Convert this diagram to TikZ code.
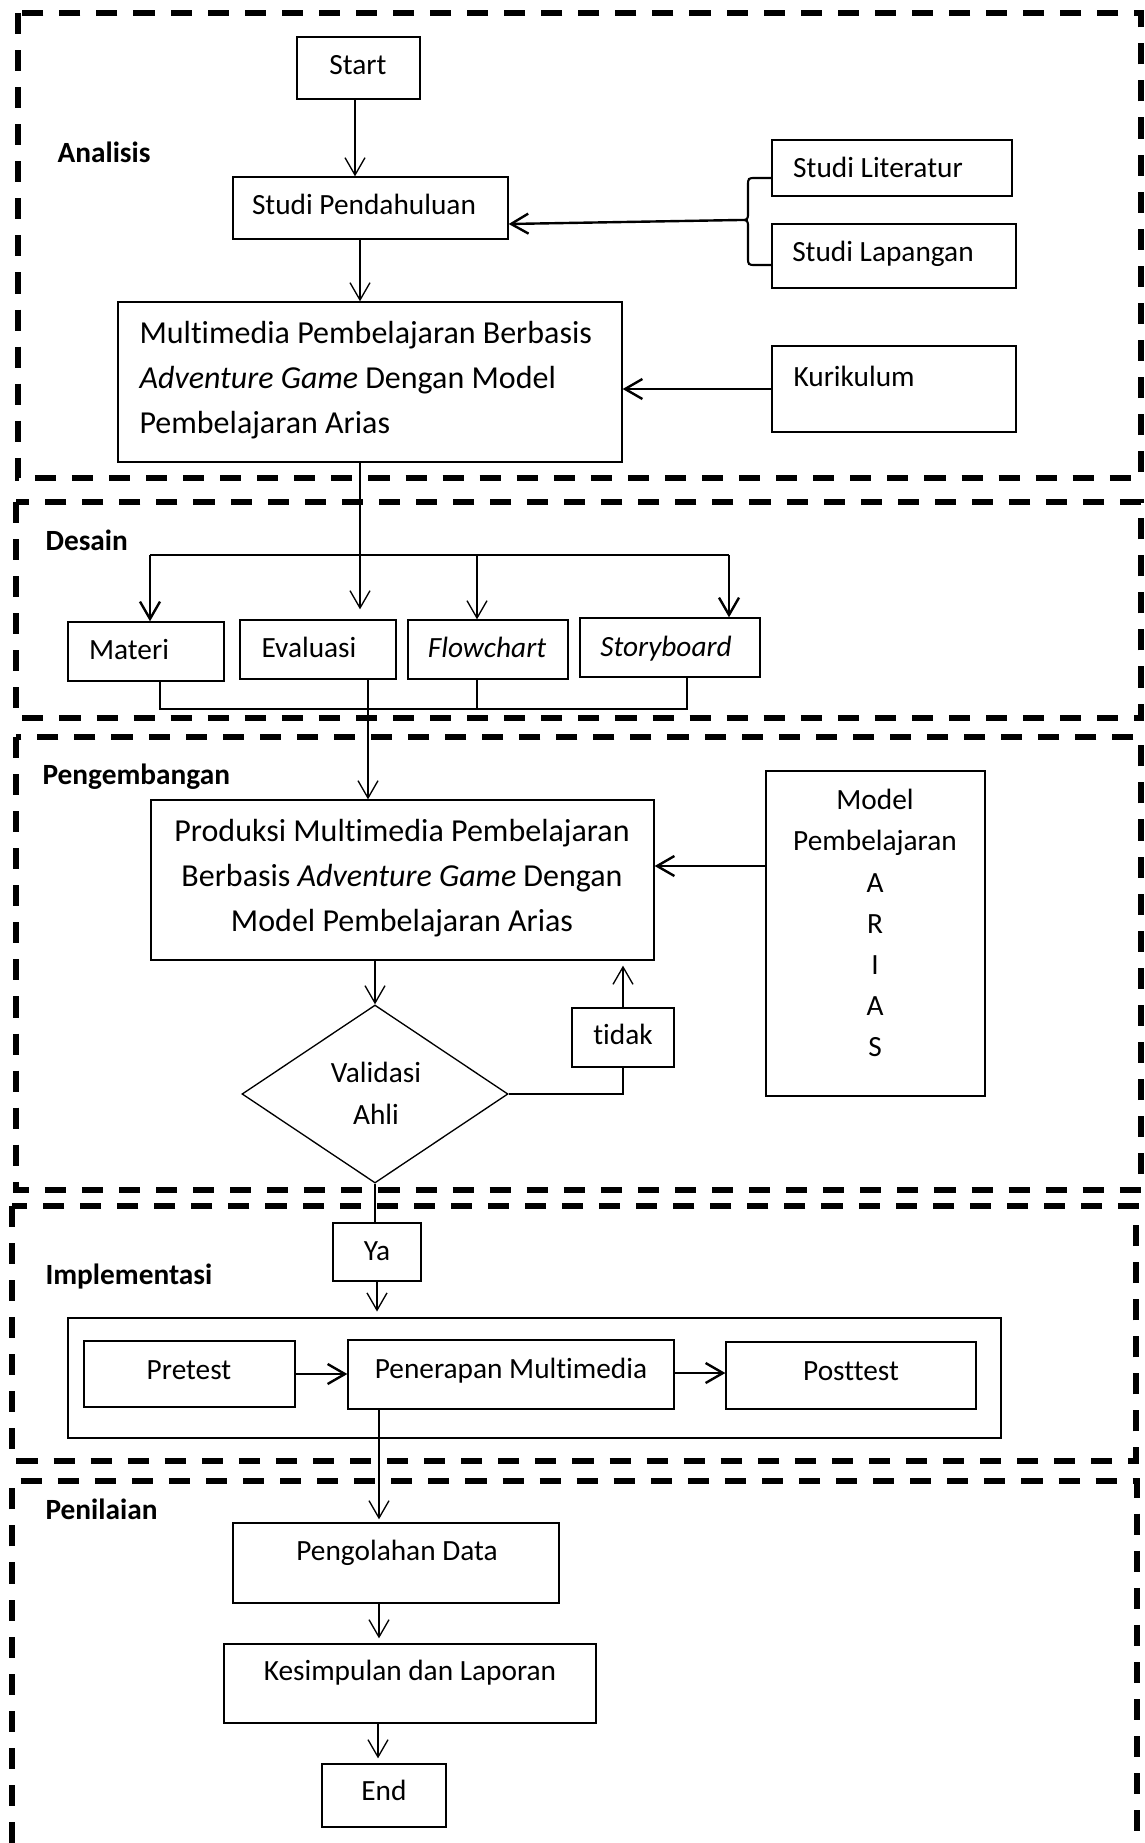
\documentclass[tikz,border=0pt]{standalone}
\usepackage{fontspec}
\setmainfont{Carlito}[Ligatures=NoCommon]
\usetikzlibrary{arrows.meta,fit,shapes.geometric}
\newlength\pxu
\setlength\pxu{0.375pt}
\begin{document}
\begin{tikzpicture}[x=0.375pt,y=-0.375pt,
  box/.style={draw,line width=0.5pt,inner sep=0pt},
  txt/.style={font=\fontsize{11}{13.2}\selectfont,inner sep=0pt,text height=1.65ex,text depth=0.4ex},
  lbl/.style={font=\fontsize{11}{13.2}\selectfont\bfseries,anchor=west,inner sep=0pt,text height=1.65ex,text depth=0.4ex},
  arr/.style={-{Straight Barb[length=6.5pt,width=7.5pt]},line width=0.5pt},
  arrt/.style={arr,line width=0.9pt},
  phasebox/.style={line width=1.9pt,dash pattern=on 7.9pt off 6pt},
  conn/.style={line width=0.5pt}]
\useasboundingbox (0,0) rectangle (1144,1843);

% phase frames
\draw[phasebox] (18,13) rectangle (1141,478);
\draw[phasebox] (16,502) rectangle (1141,718);
\draw[phasebox] (16,737) rectangle (1141,1190);
\draw[phasebox] (12,1206) rectangle (1136,1461);
\draw[phasebox] (12,1843) -- (12,1481) -- (1137,1481) -- (1137,1843);

% phase labels
\node[lbl] (l-ana) at (57,155) {Analisis};
\node[lbl] (l-des) at (45,543) {Desain};
\node[lbl] (l-pgb) at (42,777) {Pengembangan};
\node[lbl] (l-imp) at (45,1277) {Implementasi};
\node[lbl] (l-pen) at (45,1512) {Penilaian};

% ---- Analisis
\node[box,fit={(297,37)(420,99)}] (startbox) {};
\node[txt] (t-start) at (358,67) {Start};
\node[box,fit={(233,177)(508,239)}] (sp) {};
\node[txt] (t-sp) at (364,207) {Studi Pendahuluan};
\node[box,fit={(772,140)(1012,196)}] (slit) {};
\node[txt] (t-slit) at (878,170) {Studi Literatur};
\node[box,fit={(772,224)(1016,288)}] (slap) {};
\node[txt] (t-slap) at (883,254) {Studi Lapangan};
\node[box,fit={(118,302)(622,462)}] (mm) {};
\node[inner sep=0pt,anchor=west,align=left,font=\fontsize{12}{16.9}\selectfont] (t-mm) at (139,380)
  {Multimedia Pembelajaran Berbasis\\\textit{Adventure Game} Dengan Model\\Pembelajaran Arias};
\node[box,fit={(772,346)(1016,432)}] (kur) {};
\node[txt,anchor=west] (t-kur) at (793,379) {Kurikulum};

\draw[arr] (startbox.south -| 355,0) -- (sp.north -| 355,0);
\draw[arr] (sp.south -| 360,0) -- (mm.north -| 360,0);
\draw[line width=0.8pt] (slit.west |- 0,178) -- (756,178) .. controls (748,178) .. (748,186) -- (748,212)
  .. controls (748,220) .. (740,220) .. controls (748,220) .. (748,228) -- (748,257)
  .. controls (748,265) .. (756,265) -- (slap.west |- 0,265);
\coordinate (tip) at (740,220);
\draw[arrt] (tip) -- (sp.east |- 0,224);
\draw[arrt] (kur.west |- 0,389) -- (mm.east |- 0,389);

% ---- Desain
\node[box,fit={(68,622)(224,681)}] (materi) {};
\node[txt] (t-materi) at (129,652) {Materi};
\node[box,fit={(240,620)(396,679)}] (eval) {};
\node[txt] (t-eval) at (309,650) {Evaluasi};
\node[box,fit={(408,620)(568,679)}] (flow) {};
\node[txt] (t-flow) at (487,650) {\textit{Flowchart}};
\node[box,fit={(580,618)(760,677)}] (story) {};
\node[txt] (t-story) at (666,649) {\textit{Storyboard}};

\draw[arr,shorten >=10\pxu] (mm.south -| 360,0) -- (eval.north -| 360,0);
\coordinate (busL) at (150,555);
\coordinate (busR) at (729,555);
\draw[line width=0.8pt] (busL) -- (busR);
\draw[arrt] (busL) -- (materi.north -| busL);
\draw[arrt] (busR) -- (story.north -| busR);
\draw[arr] (busL -| 477,0) -- (flow.north -| 477,0);
\coordinate (bl) at (160,709);
\coordinate (br) at (687,709);
\draw[conn] (materi.south -| bl) -- (bl) -- (br) -- (story.south -| br);
\draw[conn] (flow.south -| 477,0) -- (bl -| 477,0);

% ---- Pengembangan
\node[box,fit={(151,800)(654,960)}] (prod) {};
\node[inner sep=0pt,align=center,font=\fontsize{12}{16.9}\selectfont] (t-prod) at (402,878)
  {Produksi Multimedia Pembelajaran\\Berbasis \textit{Adventure Game} Dengan\\Model Pembelajaran Arias};
\node[box,fit={(766,771)(985,1096)}] (model) {};
\node[inner sep=0pt,align=center,font=\fontsize{11}{15.4}\selectfont] (t-model) at (875,923)
  {Model\\Pembelajaran\\A\\R\\I\\A\\S};
\node[draw,diamond,line width=0.5pt,inner sep=0pt,minimum width=266\pxu,minimum height=178\pxu] (dia) at (375,1094) {};
\node[inner sep=0pt,align=center,font=\fontsize{11}{15.75}\selectfont] (t-dia) at (376,1093) {Validasi\\Ahli};
\node[box,fit={(572,1008)(674,1067)}] (tidak) {};
\node[txt] (t-tidak) at (623,1037) {tidak};

\draw[arr] (eval.south -| 368,0) -- (prod.north -| 368,0);
\draw[arrt] (model.west |- 0,866) -- (prod.east |- 0,866);
\draw[arr] (prod.south -| dia.north) -- (dia.north);
\draw[conn] (dia.east) -- (dia.east -| tidak.south) -- (tidak.south);
\draw[arr,shorten >=5\pxu] (tidak.north) -- (prod.south -| tidak.north);

% ---- Implementasi
\node[box,fit={(333,1223)(421,1281)}] (ya) {};
\node[txt] (t-ya) at (377,1253) {Ya};
\node[draw,line width=1.1pt,inner sep=0pt,fit={(68,1318)(1001,1438)}] (impl) {};
\node[box,fit={(84,1341)(295,1407)}] (pre) {};
\node[txt] (t-pre) at (189,1372) {Pretest};
\node[box,fit={(348,1340)(674,1409)}] (pen) {};
\node[txt] (t-pen) at (511,1371) {Penerapan Multimedia};
\node[box,fit={(726,1342)(976,1409)}] (post) {};
\node[txt] (t-post) at (851,1373) {Posttest};

\draw[conn] (dia.south) -- (ya.north -| dia.south);
\draw[arr,shorten >=5\pxu] (ya.south) -- (impl.north -| ya.south);
\draw[arrt] (pre.east |- 0,1374) -- (pen.west |- 0,1374);
\draw[arrt] (pen.east |- 0,1373) -- (post.west |- 0,1373);

% ---- Penilaian
\node[box,fit={(233,1523)(559,1603)}] (olah) {};
\node[txt] (t-olah) at (397,1553) {Pengolahan Data};
\node[box,fit={(224,1644)(596,1723)}] (kes) {};
\node[txt] (t-kes) at (410,1673) {Kesimpulan dan Laporan};
\node[box,fit={(322,1764)(446,1827)}] (endbox) {};
\node[txt] (t-end) at (384,1793) {End};

\draw[arr,shorten >=3\pxu] (pen.south -| 379,0) -- (olah.north -| 379,0);
\draw[arr,shorten >=5\pxu] (olah.south -| 379,0) -- (kes.north -| 379,0);
\draw[arr,shorten >=5\pxu] (kes.south -| 378,0) -- (endbox.north -| 378,0);
\end{tikzpicture}
\end{document}
